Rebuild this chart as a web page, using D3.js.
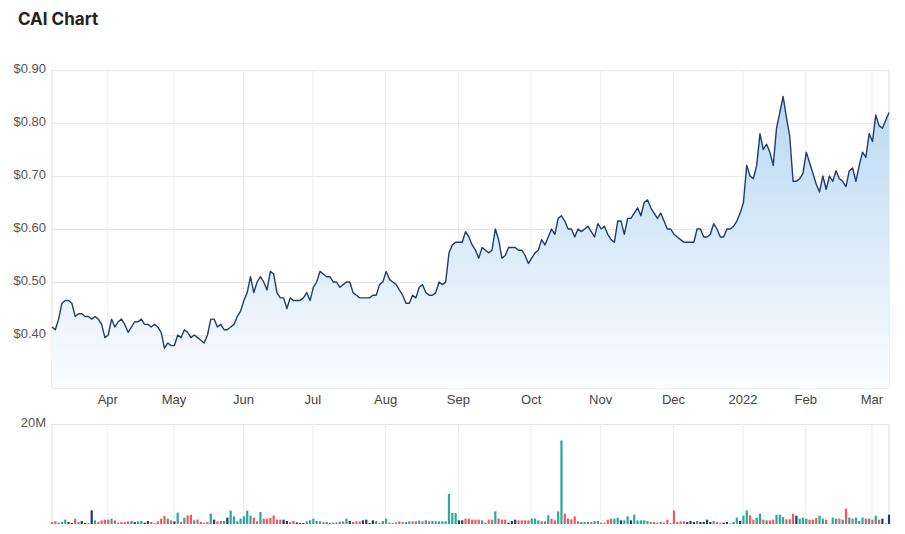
<!DOCTYPE html>
<html>
<head>
<meta charset="utf-8">
<script src="https://cdn.jsdelivr.net/npm/d3@7"></script>
<style>
  body { margin: 0; background: #fff; }
  svg { display: block; font-family: Inter, "Noto Sans", sans-serif; }
</style>
</head>
<body>
<div id="chart"></div>
<script>
// trading days, ASX, one year back from the last close
const startDate = "2021-03-09";
const endDate = "2022-03-08";
const holidays = ["2021-04-02", "2021-04-05", "2021-06-14", "2021-12-27", "2021-12-28", "2022-01-03", "2022-01-26"];

const monthLabels = ["Apr", "May", "Jun", "Jul", "Aug", "Sep", "Oct", "Nov", "Dec", "2022", "Feb", "Mar"];
const priceTicks = [0.4, 0.5, 0.6, 0.7, 0.8, 0.9];
const volumeTicks = [20];

// closing price, $
const prices = [
  0.415, 0.41, 0.43, 0.46, 0.465, 0.465, 0.46, 0.435, 0.44, 0.44,
  0.435, 0.435, 0.43, 0.435, 0.43, 0.42, 0.395, 0.40, 0.43, 0.415,
  0.425, 0.43, 0.42, 0.405, 0.415, 0.425, 0.425, 0.43, 0.42, 0.42,
  0.415, 0.42, 0.415, 0.405, 0.375, 0.385, 0.38, 0.38, 0.40, 0.395,
  0.41, 0.405, 0.395, 0.40, 0.395, 0.39, 0.385, 0.40, 0.43, 0.43,
  0.415, 0.42, 0.41, 0.41, 0.415, 0.42, 0.435, 0.445, 0.465, 0.48,
  0.51, 0.48, 0.50, 0.51, 0.50, 0.485, 0.52, 0.515, 0.48, 0.47,
  0.47, 0.45, 0.47, 0.465, 0.465, 0.465, 0.47, 0.48, 0.465, 0.49,
  0.50, 0.52, 0.515, 0.51, 0.51, 0.50, 0.50, 0.49, 0.495, 0.50,
  0.50, 0.48, 0.475, 0.47, 0.47, 0.47, 0.47, 0.475, 0.475, 0.495,
  0.50, 0.52, 0.505, 0.50, 0.495, 0.485, 0.475, 0.46, 0.46, 0.475,
  0.47, 0.49, 0.495, 0.48, 0.475, 0.475, 0.48, 0.50, 0.495, 0.50,
  0.555, 0.57, 0.575, 0.575, 0.575, 0.595, 0.585, 0.57, 0.56, 0.545,
  0.565, 0.56, 0.555, 0.56, 0.60, 0.58, 0.545, 0.55, 0.565, 0.565,
  0.565, 0.56, 0.56, 0.55, 0.535, 0.545, 0.555, 0.56, 0.58, 0.57,
  0.585, 0.60, 0.59, 0.62, 0.625, 0.615, 0.60, 0.60, 0.585, 0.60,
  0.595, 0.60, 0.605, 0.595, 0.585, 0.61, 0.60, 0.605, 0.59, 0.58,
  0.575, 0.615, 0.615, 0.59, 0.62, 0.62, 0.63, 0.64, 0.625, 0.65,
  0.655, 0.64, 0.63, 0.62, 0.63, 0.615, 0.60, 0.60, 0.59, 0.585,
  0.58, 0.575, 0.575, 0.575, 0.575, 0.60, 0.60, 0.585, 0.585, 0.59,
  0.61, 0.60, 0.585, 0.585, 0.60, 0.60, 0.605, 0.615, 0.63, 0.65,
  0.72, 0.70, 0.695, 0.72, 0.78, 0.75, 0.76, 0.745, 0.72, 0.79,
  0.82, 0.85, 0.81, 0.775, 0.69, 0.69, 0.695, 0.705, 0.745, 0.725,
  0.705, 0.685, 0.67, 0.70, 0.675, 0.70, 0.69, 0.71, 0.695, 0.69,
  0.68, 0.71, 0.715, 0.69, 0.72, 0.745, 0.735, 0.78, 0.765, 0.815,
  0.795, 0.79, 0.805, 0.82
];

// daily volume, millions of shares
const volumes = [
  0.4, 0.53, 0.27, 0.4, 0.87, 0.4, 0.2, 1.07, 0.4, 0.6,
  0.2, 0.1, 2.73, 0.73, 0.4, 0.73, 0.87, 0.87, 1.07, 0.73,
  0.27, 0.4, 0.4, 0.53, 0.6, 0.4, 0.53, 0.6, 0.27, 0.6,
  0.4, 0.2, 0.53, 1.07, 1.6, 1.07, 0.73, 0.53, 2.27, 0.4,
  1.27, 1.73, 1.87, 0.73, 0.87, 0.4, 0.27, 0.4, 2.07, 0.87,
  0.53, 0.6, 0.6, 1.27, 2.67, 1.53, 0.53, 1.07, 1.53, 2.67,
  1.67, 1.27, 0.53, 2.4, 1.07, 1.07, 1.2, 1.67, 0.87, 0.87,
  0.87, 0.6, 0.4, 0.6, 0.33, 0.2, 0.2, 0.53, 0.73, 1.07,
  0.6, 0.53, 0.4, 0.4, 0.2, 0.27, 0.33, 0.47, 0.53, 1.07,
  0.6, 0.4, 0.53, 0.53, 0.73, 0.87, 0.2, 0.73, 0.6, 0.2,
  0.6, 1.07, 0.27, 0.2, 0.33, 0.53, 0.4, 0.4, 0.53, 0.53,
  0.53, 0.67, 0.53, 0.73, 0.53, 0.6, 0.53, 0.53, 0.53, 0.53,
  6.0, 2.2, 2.2, 0.73, 0.73, 1.07, 1.07, 0.87, 0.87, 0.87,
  0.73, 0.27, 0.87, 0.87, 2.53, 1.07, 0.87, 0.87, 0.27, 0.6,
  0.87, 0.73, 0.73, 0.73, 0.73, 1.07, 1.07, 0.73, 0.53, 0.53,
  1.73, 1.07, 0.73, 2.53, 16.7, 2.07, 1.07, 0.93, 1.53, 0.53,
  0.4, 0.4, 0.4, 0.4, 0.6, 0.6, 0.27, 0.27, 0.87, 1.07,
  1.07, 1.27, 0.73, 0.73, 1.53, 0.73, 1.87, 0.73, 0.73, 0.73,
  0.6, 0.4, 0.4, 0.27, 0.4, 0.27, 0.87, 0.13, 2.73, 0.4,
  0.53, 0.53, 0.4, 0.6, 0.4, 0.6, 0.4, 0.4, 0.87, 0.4,
  0.6, 0.4, 0.27, 0.27, 0.4, 0.13, 0.4, 1.27, 0.6, 1.67,
  2.73, 1.73, 0.87, 1.27, 2.07, 0.87, 0.73, 0.73, 0.87, 1.87,
  1.87, 1.4, 0.93, 0.93, 2.07, 1.67, 1.07, 1.27, 1.07, 0.87,
  0.87, 1.2, 1.67, 1.07, 0.87, 0.07, 1.27, 1.07, 1.07, 0.87,
  3.07, 1.27, 1.07, 1.27, 0.6, 1.27, 1.07, 1.07, 0.87, 1.67,
  0.87, 1.07, 0.07, 1.87
];

// bar colour code per day: u = up, d = down, n = unchanged
const moves = [
  "dduuunndun", "nnnuddddud", "udddunuunn", "dddddudnud", "udduddddun",
  "ddunuuuuuu", "uddudddddd", "nnddnnnuuu", "uuduuuuudu", "ndddnnnnuu",
  "uuddddduud", "dududuuuuu", "uuunnddddd", "udddudddnn", "ndddduuudu",
  "udduuddddd", "uuuduudddd", "uunuunuuuu", "uddduddudd", "ddnnnunnnn",
  "uddnnduunu", "udduududdu", "uudddnuuud", "dduudduudu", "duduuududu",
  "dnnn"
].join("").split("");

const width = 905, height = 534;
const left = 52, right = 889;
const priceTop = 70, priceBottom = 388;
const volTop = 424, volBottom = 524;

const parseDay = d3.utcParse("%Y-%m-%d");
const fmtDay = d3.utcFormat("%Y-%m-%d");
const dates = d3.utcDays(parseDay(startDate), d3.utcDay.offset(parseDay(endDate), 1))
    .filter(d => d.getUTCDay() % 6 !== 0 && !holidays.includes(fmtDay(d)));

const data = dates.map((d, i) => ({ i, date: d, price: prices[i], volume: volumes[i], move: moves[i] || "n" }))
    .filter(d => d.price != null);

const x = d3.scaleLinear().domain([0, data.length - 1]).range([left, right]);
const y = d3.scaleLinear().domain([0.3, 0.9]).range([priceBottom, priceTop]);
const yVol = d3.scaleLinear().domain([0, 20]).range([volBottom, volTop]);
const moveColor = d3.scaleOrdinal().domain(["u", "d", "n"]).range(["#2aa89a", "#ef5a5f", "#1d3c6e"]);

// month gridlines sit just before the first trading day of each month
const monthStarts = data.filter((d, k) => k > 0 && d.date.getUTCMonth() !== data[k - 1].date.getUTCMonth())
    .map(d => d.i - 0.3);
const tickText = new Map(monthStarts.map((v, k) => [v, monthLabels[k]]));

const svg = d3.select("#chart").append("svg")
    .attr("width", width)
    .attr("height", height);

svg.append("text")
    .attr("x", 18)
    .attr("y", 25)
    .attr("fill", "#222")
    .style("font-size", "17px")
    .style("font-weight", 700)
    .text("CAI Chart");

const defs = svg.append("defs");
const grad = defs.append("linearGradient")
    .attr("id", "areaFill")
    .attr("gradientUnits", "userSpaceOnUse")
    .attr("x1", 0).attr("x2", 0)
    .attr("y1", priceTop).attr("y2", priceBottom);
grad.append("stop").attr("offset", "0%").attr("stop-color", "#b3d5f1");
grad.append("stop").attr("offset", "100%").attr("stop-color", "#fbfdff");

// price grid + labels
const yAxis = svg.append("g")
    .attr("transform", `translate(${left},0)`)
    .call(d3.axisLeft(y).tickValues(priceTicks).tickSize(-(right - left)).tickPadding(6)
        .tickFormat(d3.format("$.2f")));
yAxis.select(".domain").remove();
yAxis.selectAll("line").attr("stroke", "#e8e8e8");
yAxis.selectAll("text").attr("fill", "#555").attr("dy", "0.17em").style("font-size", "13px");

const xAxis = svg.append("g")
    .attr("transform", `translate(0,${priceBottom})`)
    .call(d3.axisBottom(x).tickValues(monthStarts).tickSize(-(priceBottom - priceTop)).tickPadding(7)
        .tickFormat(v => tickText.get(v)));
xAxis.select(".domain").attr("stroke", "#e0e0e0").attr("d", `M${left},0H${right}`);
xAxis.selectAll("line").attr("stroke", "#ececec");
xAxis.selectAll("text").attr("fill", "#444").style("font-size", "13px");

svg.append("path")
    .attr("fill", "none")
    .attr("stroke", "#e0e0e0")
    .attr("d", `M${left},${priceTop}V${priceBottom}M${right},${priceTop}V${priceBottom}`);

const area = d3.area()
    .x(d => x(d.i))
    .y0(priceBottom)
    .y1(d => y(d.price));
const line = d3.line()
    .x(d => x(d.i))
    .y(d => y(d.price));

svg.append("path")
    .datum(data)
    .attr("fill", "url(#areaFill)")
    .attr("d", area);

svg.append("path")
    .datum(data)
    .attr("fill", "none")
    .attr("stroke", "#1e3d6e")
    .attr("stroke-width", 1.4)
    .attr("stroke-linejoin", "round")
    .attr("d", line);

// volume panel
const volAxis = svg.append("g")
    .attr("transform", `translate(${left},0)`)
    .call(d3.axisLeft(yVol).tickValues(volumeTicks).tickSize(-(right - left)).tickPadding(6)
        .tickFormat(v => v + "M"));
volAxis.select(".domain").remove();
volAxis.selectAll("line").attr("stroke", "#e3e3e3");
volAxis.selectAll("text").attr("fill", "#555").attr("dy", "0.17em").style("font-size", "13px");

const volGrid = svg.append("g")
    .attr("transform", `translate(0,${volBottom})`)
    .call(d3.axisBottom(x).tickValues(monthStarts).tickSize(-(volBottom - volTop)).tickFormat(""));
volGrid.select(".domain").remove();
volGrid.selectAll("line").attr("stroke", "#ececec");

svg.append("path")
    .attr("fill", "none")
    .attr("stroke", "#e0e0e0")
    .attr("d", `M${left},${volTop}V${volBottom}M${right},${volTop}V${volBottom}`);

const barW = 2.2;
svg.append("g")
    .selectAll("rect")
    .data(data)
    .join("rect")
    .attr("x", d => x(d.i) - barW / 2)
    .attr("y", d => yVol(d.volume))
    .attr("width", barW)
    .attr("height", d => volBottom - yVol(d.volume))
    .attr("fill", d => moveColor(d.move));
</script>
</body>
</html>
